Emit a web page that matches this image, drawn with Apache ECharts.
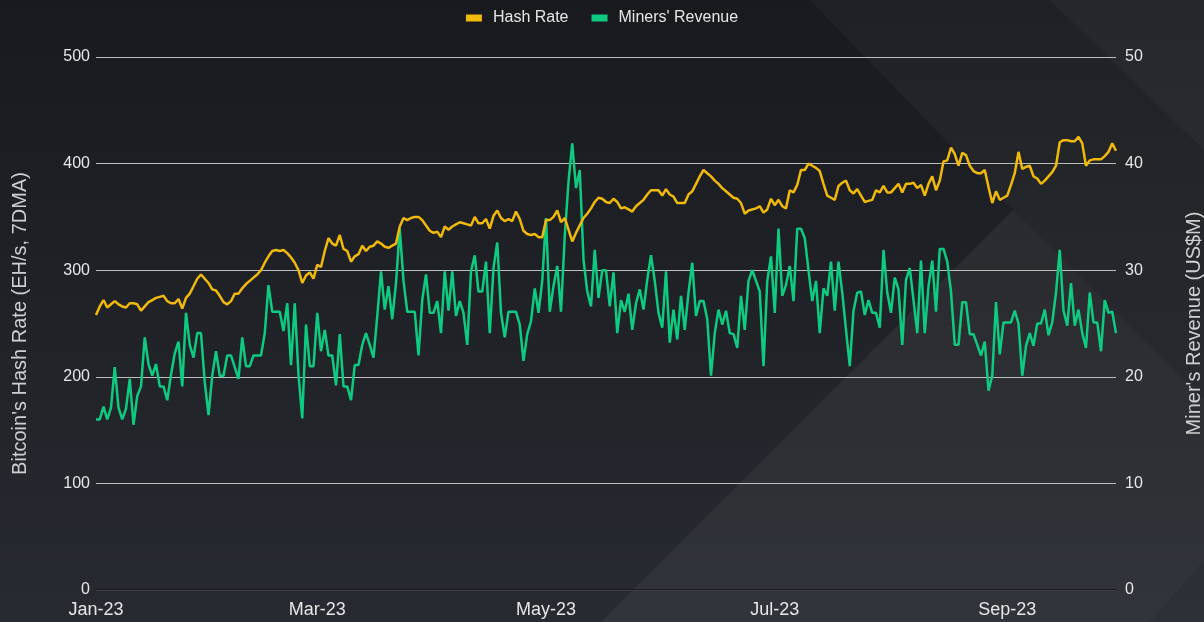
<!DOCTYPE html>
<html lang="en">
<head>
  <meta charset="UTF-8">
  <title>Hash Rate vs Miners' Revenue</title>
  <script src="https://cdn.jsdelivr.net/npm/echarts@6/dist/echarts.min.js"></script>
  <style>
    html, body { margin: 0; padding: 0; background: #1c1f24; }
  </style>
</head>
<body>
  <div id="main" style="width: 1204px; height: 622px;"></div>

  <script>
    // first day of the daily series
    const startDate = '2023-01-01'
    // months whose 1st day gets a label (0 = Jan)
    const labelMonths = [0, 2, 4, 6, 8]
    const monthNames = ['Jan', 'Feb', 'Mar', 'Apr', 'May', 'Jun', 'Jul', 'Aug', 'Sep', 'Oct', 'Nov', 'Dec']

    // Bitcoin hash rate, EH/s 7DMA (one value per day, Jan-Sep 2023)
    const hashRate = [
      258, 266, 272, 265, 268, 271, 268, 266, 265, 269, 269, 268, 262, 266, 270, 272, 274, 275, 276, 271, 269, 269, 273, 264, 274, 278, 285, 292, 296, 292, 288,
      282, 281, 276, 270, 268, 271, 278, 278, 283, 287, 290, 293, 296, 300, 307, 313, 318, 319, 318, 319, 316, 312, 307, 300, 288, 295, 298, 292,
      305, 303, 318, 330, 325, 323, 333, 320, 318, 308, 313, 315, 323, 318, 322, 323, 327, 325, 322, 321, 323, 325, 341, 349, 347, 349, 350, 350, 347, 342, 337,
      335, 336, 331, 341, 338, 341, 343, 345, 344, 343, 342, 350, 344, 344, 348, 339, 351, 356, 349, 346, 348, 346, 355, 348, 337, 334, 333, 334, 331, 331,
      347, 347, 350, 356, 345, 349, 338, 327, 335, 342, 349, 353, 358, 364, 368, 367, 364, 363, 367, 364, 358, 359, 357, 355, 360, 363, 366, 371, 375, 375, 375,
      370, 376, 371, 369, 363, 363, 363, 371, 374, 381, 388, 394, 391, 388, 384, 381, 377, 374, 371, 368, 367, 363, 353, 356, 357, 358, 360, 354, 357, 367,
      361, 366, 360, 358, 375, 373, 380, 394, 394, 400, 398, 396, 393, 381, 370, 368, 366, 379, 382, 384, 375, 372, 376, 370, 364, 365, 366, 375, 373, 379, 373,
      373, 377, 381, 373, 381, 381, 382, 377, 380, 370, 381, 388, 375, 384, 402, 403, 415, 409, 398, 410, 408, 398, 393, 391, 391, 394, 378, 363, 374, 366, 368,
      370, 380, 391, 411, 395, 397, 398, 388, 386, 381, 384, 388, 392, 398, 420, 422, 422, 421, 421, 425, 419, 398, 403, 404, 404, 404, 407, 411, 419, 412
    ]

    // Miners' revenue, US$M per day
    const minersRevenue = [
      16.0, 16.0, 17.2, 16.0, 17.1, 20.9, 17.1, 16.0, 17.0, 19.8, 15.5, 18.2, 19.1, 23.7, 21.2, 20.1, 21.2, 19.1, 19.1, 17.8, 20.2, 22.2, 23.3, 19.1, 26.0, 23.0, 21.8, 24.1, 24.1, 19.5, 16.4,
      20.1, 22.4, 20.1, 20.1, 22.0, 22.0, 20.9, 19.8, 23.7, 21.0, 21.0, 22.0, 22.0, 22.0, 24.1, 28.6, 26.1, 26.1, 26.1, 24.3, 26.9, 21.1, 26.9, 20.2, 16.1, 24.9, 21.0, 21.0,
      26.0, 22.4, 24.4, 22.0, 22.0, 19.2, 24.0, 19.1, 19.1, 17.8, 21.1, 21.1, 23.0, 24.1, 23.0, 21.8, 25.7, 29.9, 26.3, 28.5, 25.4, 28.8, 33.9, 29.0, 26.1, 26.1, 26.1, 22.0, 27.2, 29.6, 26.0,
      26.0, 27.1, 24.1, 29.9, 26.2, 29.9, 25.7, 27.1, 26.0, 23.0, 29.9, 31.4, 28.0, 28.0, 30.8, 24.1, 30.2, 32.6, 26.0, 23.7, 26.1, 26.1, 26.1, 24.9, 21.5, 24.0, 25.2, 28.3, 26.0, 29.0,
      34.9, 26.1, 28.5, 30.4, 26.1, 33.2, 38.3, 41.9, 37.7, 39.4, 31.0, 28.0, 26.6, 31.9, 27.4, 30.0, 30.0, 26.6, 29.8, 24.1, 27.2, 26.1, 27.8, 24.4, 26.9, 28.2, 26.3, 29.1, 31.4, 29.0, 26.0,
      24.6, 29.9, 23.2, 26.3, 23.5, 27.6, 24.4, 27.9, 30.7, 25.7, 27.1, 27.1, 25.4, 20.1, 24.1, 26.3, 24.9, 26.2, 24.1, 24.0, 22.7, 27.6, 24.4, 29.0, 30.0, 29.0, 28.0, 21.0, 29.0, 31.3,
      26.0, 33.9, 27.6, 28.6, 30.4, 27.1, 33.9, 33.9, 33.0, 30.0, 27.1, 29.0, 24.1, 28.3, 27.6, 30.8, 26.2, 30.8, 27.9, 24.4, 21.0, 26.2, 27.9, 28.0, 25.8, 27.2, 26.0, 26.0, 24.6, 31.9, 27.9,
      26.0, 29.3, 28.2, 23.0, 29.1, 30.2, 27.2, 24.1, 30.9, 24.1, 28.5, 30.9, 26.1, 32.0, 32.0, 30.8, 28.0, 23.0, 23.0, 27.0, 27.0, 24.0, 24.0, 23.0, 22.0, 23.3, 18.7, 20.1, 27.0, 22.1, 25.1,
      25.1, 25.1, 26.2, 25.0, 20.1, 22.9, 24.1, 22.9, 25.0, 25.0, 26.3, 23.9, 25.1, 27.9, 31.9, 26.2, 24.8, 28.8, 24.8, 26.3, 24.1, 22.7, 27.9, 25.1, 25.1, 22.4, 27.2, 26.0, 26.1, 24.1
    ]

    // build the day list
    let days = []
    let d = new Date(startDate + 'T00:00:00Z')
    for (let i = 0; i < hashRate.length; i++) {
      days.push(d.toISOString().slice(0, 10))
      d = new Date(d.getTime() + 24 * 3600 * 1000)
    }

    function isLabelDay(value) {
      let m = parseInt(value.slice(5, 7), 10) - 1
      return value.slice(8, 10) === '01' && labelMonths.indexOf(m) !== -1
    }

    let myChart = echarts.init(document.querySelector('#main'))

    let options = {
      backgroundColor: new echarts.graphic.LinearGradient(0, 0, 0, 1, [
        { offset: 0, color: '#181a1e' },
        { offset: 1, color: '#272a30' }
      ]),
      // decorative diagonal shapes in the background
      graphic: {
        elements: [
          {
            type: 'polygon', z: -10, silent: true,
            shape: { points: [[810, 0], [1204, 0], [1204, 622], [601, 622], [1013, 210]] },
            style: { fill: 'rgba(255,255,255,0.03)' }
          },
          {
            type: 'polygon', z: -10, silent: true,
            shape: { points: [[1050, 0], [1204, 0], [1204, 150]] },
            style: { fill: 'rgba(255,255,255,0.03)' }
          },
          {
            type: 'polygon', z: -10, silent: true,
            shape: { points: [[1013, 210], [1204, 400], [1204, 560], [1150, 622], [601, 622]] },
            style: { fill: 'rgba(255,255,255,0.025)' }
          }
        ]
      },
      legend: {
        top: 5,
        left: 'center',
        itemWidth: 16,
        itemHeight: 7,
        itemGap: 23,
        icon: 'rect',
        textStyle: { color: '#e6e6e6', fontSize: 16, fontFamily: 'Liberation Sans, Arial, sans-serif', padding: [0, 0, 0, 6] },
        data: ['Hash Rate', "Miners' Revenue"]
      },
      grid: {
        left: 96,
        right: 88,
        top: 57,
        bottom: 32,
        containLabel: false,
        outerBoundsMode: 'none'
      },
      xAxis: {
        type: 'category',
        data: days,
        boundaryGap: false,
        axisLine: { show: true, lineStyle: { color: '#15171a', width: 1.5 } },
        axisTick: { show: false },
        splitLine: { show: false },
        axisLabel: {
          color: '#e6e6e6',
          fontSize: 18,
          fontFamily: 'Liberation Sans, Arial, sans-serif',
          margin: 11,
          interval: (index, value) => isLabelDay(value),
          formatter: (value) => {
            let m = parseInt(value.slice(5, 7), 10) - 1
            return monthNames[m] + '-' + value.slice(2, 4)
          }
        }
      },
      yAxis: [
        {
          type: 'value',
          min: 0,
          max: 500,
          interval: 100,
          name: "Bitcoin's Hash Rate (EH/s, 7DMA)",
          nameLocation: 'middle',
          nameRotate: 90,
          nameGap: 66,
          nameTextStyle: { color: '#cfcfcf', fontSize: 20, fontFamily: 'Liberation Sans, Arial, sans-serif' },
          axisLine: { show: false },
          axisTick: { show: false },
          axisLabel: { color: '#e6e6e6', fontSize: 16, margin: 6, fontFamily: 'Liberation Sans, Arial, sans-serif' },
          splitLine: { show: true, lineStyle: { color: '#bdbdbd', width: 1.2 } }
        },
        {
          type: 'value',
          min: 0,
          max: 50,
          interval: 10,
          position: 'right',
          name: "Miner's Revenue (US$M)",
          nameLocation: 'middle',
          nameRotate: 90,
          nameGap: 68,
          nameTextStyle: { color: '#cfcfcf', fontSize: 20, fontFamily: 'Liberation Sans, Arial, sans-serif' },
          axisLine: { show: false },
          axisTick: { show: false },
          axisLabel: { color: '#e6e6e6', fontSize: 16, margin: 9, fontFamily: 'Liberation Sans, Arial, sans-serif' },
          splitLine: { show: false }
        }
      ],
      series: [
        {
          name: 'Hash Rate',
          type: 'line',
          yAxisIndex: 0,
          data: hashRate,
          showSymbol: false,
          symbol: 'none',
          itemStyle: { color: '#f0b90b' },
          lineStyle: { color: '#f0b90b', width: 2.5 },
          z: 3
        },
        {
          name: "Miners' Revenue",
          type: 'line',
          yAxisIndex: 1,
          data: minersRevenue,
          showSymbol: false,
          symbol: 'none',
          itemStyle: { color: '#0ecb81' },
          lineStyle: { color: '#0ecb81', width: 2.5 },
          z: 2
        }
      ],
      animation: false
    }

    myChart.setOption(options)
  </script>
</body>
</html>
